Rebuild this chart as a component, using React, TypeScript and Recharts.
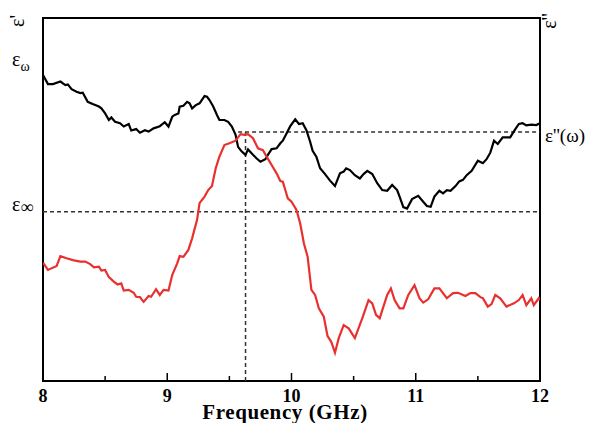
import React from 'react';
import { ComposedChart, Line, XAxis, YAxis, ReferenceLine, ReferenceArea } from 'recharts';

// Frequency (GHz) and relative permittivity values (arbitrary units, 0-100)
const realFreq = [8.0,8.04,8.08,8.14,8.18,8.2,8.23,8.27,8.3,8.32,8.36,8.4,8.45,8.47,8.5,8.53,8.55,8.58,8.62,8.65,8.69,8.71,8.75,8.78,8.82,8.85,8.89,8.94,8.98,9.01,9.04,9.06,9.09,9.1,9.13,9.16,9.18,9.2,9.23,9.26,9.3,9.32,9.34,9.37,9.4,9.42,9.46,9.49,9.52,9.55,9.57,9.6,9.63,9.65,9.69,9.72,9.75,9.79,9.81,9.84,9.88,9.91,9.93,9.96,9.99,10.03,10.06,10.09,10.12,10.15,10.17,10.2,10.23,10.27,10.31,10.35,10.39,10.42,10.44,10.47,10.51,10.55,10.58,10.61,10.65,10.69,10.73,10.77,10.81,10.85,10.87,10.9,10.93,10.97,11.02,11.06,11.09,11.12,11.15,11.19,11.22,11.25,11.28,11.32,11.35,11.38,11.41,11.45,11.5,11.54,11.57,11.6,11.63,11.66,11.7,11.76,11.8,11.83,11.86,11.89,11.93,11.97,12.0];
const realPart = [84.3,81.8,81.8,82.5,81.5,81.7,80.4,79.7,79.3,79.4,76.9,76.3,75.6,75.1,73.7,71.9,72.6,71.4,71.0,70.1,70.8,69.0,69.4,68.4,69.1,68.7,69.6,70.2,71.3,70.1,72.8,73.3,73.7,75.6,75.8,76.9,76.5,75.1,76.0,76.5,78.5,78.3,77.4,75.6,73.3,71.9,71.9,71.4,70.1,67.8,64.5,63.2,62.3,63.8,62.3,61.3,60.4,61.1,62.3,63.9,64.1,65.5,66.2,68.2,70.2,72.1,70.8,71.0,69.1,65.9,63.4,61.8,58.6,57.0,55.2,53.7,57.2,57.7,58.6,58.1,56.7,55.8,57.0,57.9,57.0,54.5,52.6,52.4,54.0,52.6,50.8,47.9,47.5,50.1,51.0,49.4,48.2,48.0,50.8,52.4,51.7,52.6,52.4,53.7,55.0,55.4,56.7,57.9,60.7,60.0,61.1,62.9,66.2,65.3,67.1,67.1,69.3,70.8,71.0,70.4,70.6,70.5,71.0];

const imagFreq = [8.0,8.04,8.11,8.14,8.19,8.24,8.3,8.34,8.38,8.41,8.45,8.47,8.5,8.53,8.57,8.6,8.63,8.65,8.69,8.73,8.75,8.78,8.81,8.85,8.87,8.91,8.94,8.97,9.01,9.04,9.08,9.1,9.13,9.17,9.2,9.24,9.26,9.3,9.33,9.36,9.39,9.42,9.46,9.5,9.55,9.59,9.62,9.65,9.69,9.73,9.77,9.8,9.84,9.88,9.91,9.93,9.97,10.0,10.04,10.07,10.1,10.13,10.16,10.19,10.22,10.26,10.29,10.32,10.35,10.38,10.42,10.46,10.51,10.57,10.62,10.65,10.68,10.71,10.77,10.8,10.83,10.87,10.9,10.94,10.99,11.03,11.06,11.1,11.15,11.19,11.25,11.3,11.34,11.4,11.44,11.48,11.52,11.54,11.58,11.61,11.64,11.68,11.73,11.79,11.83,11.86,11.89,11.93,11.95,11.99,12.0];
const imagPart = [32.6,30.6,31.7,34.4,33.8,33.3,32.9,32.9,32.2,31.3,31.5,30.4,30.6,28.6,27.4,26.6,26.9,24.9,25.1,24.3,23.2,23.1,21.8,23.4,23.2,25.3,23.7,25.1,24.9,29.2,32.4,34.4,34.2,36.1,39.3,44.4,49.0,50.8,52.6,53.7,58.6,61.8,65.0,65.5,66.2,68.0,67.8,68.0,66.9,64.1,63.6,61.8,59.5,57.2,55.1,54.9,50.3,49.4,47.1,43.4,37.9,34.2,25.1,23.7,20.0,17.7,12.4,10.8,7.8,11.8,15.4,14.5,11.8,17.3,22.3,21.4,18.2,17.3,23.7,25.5,22.3,20.0,20.0,23.7,26.4,22.8,21.6,22.5,25.5,25.5,22.8,24.2,24.3,23.4,24.2,24.2,23.1,22.8,20.5,21.2,23.7,22.8,20.5,21.4,22.3,23.7,20.9,22.8,20.9,22.8,22.3];

const xTicks = [8, 8.5, 9, 9.5, 10, 10.5, 11, 11.5, 12];
const peakFreq = 9.63;
const epsInf = 46.6;
const epsImagPeak = 68.6;

const realData = realFreq.map((f, i) => ({ f, v: realPart[i] }));
const imagData = imagFreq.map((f, i) => ({ f, v: imagPart[i] }));

const FONT = '"Liberation Serif", "Times New Roman", serif';

const Tick = (props: any) => {
  const { x, y, payload } = props;
  const major = Number.isInteger(payload.value);
  const len = major ? 8 : 5;
  return (
    <g>
      <line x1={x} y1={y} x2={x} y2={y - len} stroke="#000" strokeWidth={1.5} />
      {major && (
        <text x={x} y={y + 21} textAnchor="middle" fontFamily={FONT} fontWeight="bold" fontSize={18} fill="#000">
          {payload.value}
        </text>
      )}
    </g>
  );
};

export default function App() {
  return (
    <div style={{ position: 'absolute', left: 0, top: 0, width: 593, height: 423, background: '#fff' }}>
      <ComposedChart width={593} height={423} margin={{ top: 18, right: 53, bottom: 12, left: 43 }}>
        <XAxis
          dataKey="f"
          type="number"
          domain={[8, 12]}
          ticks={xTicks}
          allowDataOverflow
          axisLine={false}
          tickLine={false}
          tickSize={0}
          tickMargin={0}
          tick={Tick}
          height={30}
          interval={0}
        />
        <YAxis type="number" domain={[0, 100]} hide width={0} allowDataOverflow />
        <ReferenceArea x1={8} x2={12} y1={0} y2={100} fill="none" stroke="#000" strokeWidth={2} ifOverflow="visible" />
        <ReferenceLine
          segment={[{ x: 8, y: epsInf }, { x: 12, y: epsInf }]}
          stroke="#333"
          strokeDasharray="4 3"
          strokeWidth={1.5}
        />
        <ReferenceLine
          segment={[{ x: 9.57, y: epsImagPeak }, { x: 12, y: epsImagPeak }]}
          stroke="#333"
          strokeDasharray="4 3"
          strokeWidth={1.5}
        />
        <ReferenceLine
          segment={[{ x: peakFreq, y: 0 }, { x: peakFreq, y: epsImagPeak }]}
          stroke="#333"
          strokeDasharray="4 3"
          strokeWidth={1.5}
        />
        <Line data={realData} dataKey="v" type="linear" stroke="#000" strokeWidth={2.2} dot={false} isAnimationActive={false} />
        <Line data={imagData} dataKey="v" type="linear" stroke="#e8312f" strokeWidth={2.2} dot={false} isAnimationActive={false} />
      </ComposedChart>
      <svg width={593} height={423} style={{ position: 'absolute', left: 0, top: 0, pointerEvents: 'none' }}>
        <text x={285} y={419} textAnchor="middle" fontFamily={FONT} fontWeight="bold" fontSize={21} letterSpacing={0.6} fill="#000">Frequency (GHz)</text>
        <text transform="translate(24,21) rotate(-90)" textAnchor="middle" fontFamily={FONT} fontSize={20} fill="#000">ε'</text>
        <text transform="translate(556,21) rotate(-90)" textAnchor="middle" fontFamily={FONT} fontSize={20} fill="#000">ε''</text>
        <text x={12} y={66} fontFamily={FONT} fontSize={20} fill="#000">ε<tspan fontSize={14} dy={5}>ω</tspan></text>
        <text x={12} y={211} fontFamily={FONT} fontSize={20} fill="#000">ε<tspan fontSize={18} dy={2}>∞</tspan></text>
        <text x={545} y={142} fontFamily={FONT} fontSize={19} fill="#000">ε''(ω)</text>
      </svg>
    </div>
  );
}
